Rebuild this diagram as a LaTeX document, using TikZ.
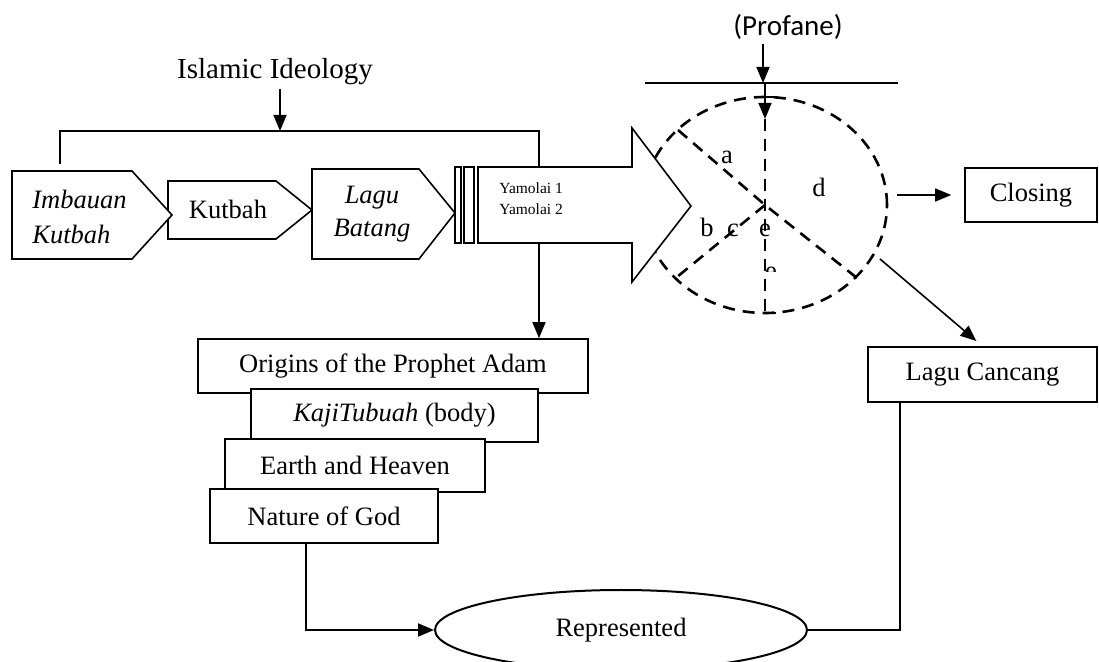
\documentclass[tikz,border=0pt]{standalone}
\usepackage{fontspec}
\setmainfont{Liberation Serif}
\newfontfamily\carlito{Carlito}
\usetikzlibrary{arrows.meta,shapes.geometric}
\begin{document}
\begin{tikzpicture}[x=0.5pt,y=-0.5pt,
  every node/.style={font=\fontsize{13.25}{16}\selectfont, inner sep=0pt},
  ln/.style={line width=0.8pt},
  tip/.style={-{Triangle[length=8pt,width=6.5pt]}},
  arr/.style={ln,tip},
  bx/.style={draw,ln,fill=white,rectangle,minimum height=27pt},
  dsh/.style={line width=1.3pt,dash pattern=on 6pt off 4pt},
  chev/.style={draw,ln,fill=white}
]
\useasboundingbox (0,0) rectangle (1099,662);

% profane and circle (drawn first, the big arrow covers it)
\node[font=\carlito\fontsize{14.5}{17}\selectfont] (prof) at (788,27) {(Profane)};
\coordinate (pA) at (763,44);
\coordinate (hl) at (763,83);
\coordinate (hlL) at (645,83);
\coordinate (hlR) at (898,83);
\draw[arr] (pA) -- (hl);
\draw[ln] (hlL) -- (hlR);
\node[draw,dsh,ellipse,minimum width=122pt,minimum height=108pt] (circ) at (765,205) {};
\coordinate (vtop) at (765,83);
\coordinate (vA) at (765,119);
\draw[arr] (vtop) -- (vA);
\draw[dsh] (vA) -- (circ.south);
\coordinate (d1) at (678,130);
\coordinate (d2) at (857,278);
\coordinate (d3) at (677,277);
\draw[dsh] (d1) -- (circ.center) -- (d2);
\draw[dsh] (circ.center) -- (d3);
\draw[line width=1pt] (765,97) -- (776,97);
\draw[line width=1pt] (765,313) -- (776,313);

\node (la) at (727,157) {a};
\node (ld) at (819,187) {d};
\node (lbb) at (707,227) {b};
\node (lc) at (733,230) {c};
\node (le) at (765,230) {e};
\begin{scope}
  \clip (750,255) rectangle (790,272);
  \node (le2) at (771,273) {e};
\end{scope}

% Islamic ideology and bracket
\node[font=\fontsize{14.5}{17}\selectfont] (ideo) at (275,72) {Islamic Ideology};
\coordinate (ideoA) at (280,89);
\coordinate (brM) at (280,131);
\coordinate (brL) at (60,131);
\coordinate (brR) at (539,131);
\draw[arr] (ideoA) -- (brM);
\draw[ln] (60,164) -- (brL) -- (brR) -- (539,167);

% chevrons
\draw[chev] (168,181) -- (276,181) -- (312,210) -- (276,239) -- (168,239) -- cycle;
\draw[chev] (12,171) -- (132,171) -- (172,215) -- (132,259) -- (12,259) -- cycle;
\draw[chev] (312,169) -- (419,169) -- (455,213) -- (419,259) -- (312,259) -- cycle;
\node[anchor=west,align=left,font=\fontsize{13.25}{17.5}\selectfont\itshape] (imb) at (32,217) {Imbauan\\Kutbah};
\node (kut) at (228,209) {Kutbah};
\node[align=center,font=\fontsize{13.25}{16.5}\selectfont\itshape] (lb) at (372,214) {Lagu\\Batang};

% thin bars and big arrow
\draw[ln] (455,167) rectangle (461,243);
\draw[ln] (464,167) rectangle (474,243);
\draw[chev] (478,167) -- (632,167) -- (632,128) -- (691,206) -- (632,282) -- (632,243) -- (478,243) -- cycle;
\node[anchor=west,align=left,font=\fontsize{7.75}{10.5}\selectfont] (yam) at (499,199) {Yamolai 1\\Yamolai 2};
\coordinate (yamB) at (539,243);

% stacked boxes
\node[bx,minimum width=195pt] (org) at (393,366) {Origins of the Prophet Adam};
\node[bx,minimum width=143.5pt,minimum height=26.5pt] (kaji) at (394.5,415.5) {\textit{KajiTubuah} (body)};
\node[bx,minimum width=130pt,minimum height=26.5pt] (earth) at (355,465.5) {Earth and Heaven};
\node[bx,minimum width=114pt] (nat) at (324,516) {Nature of God};
\draw[arr] (yamB) -- (yamB |- org.north);

% represented
\node[draw,line width=1pt,ellipse,minimum width=186pt,minimum height=40pt] (rep) at (621,630) {Represented};
\coordinate (natx) at (306,0);
\draw[line width=1pt,tip] (nat.south -| natx) |- (rep.west);

% closing and lagu cancang
\node[bx,minimum width=66pt] (clo) at (1031,195) {Closing};
\coordinate (cR) at (897,195);
\draw[arr,shorten >=6.5pt] (cR) -- (clo.west);
\node[bx,minimum width=114.5pt,minimum height=27.5pt] (lcan) at (982.5,374.5) {Lagu Cancang};
\coordinate (cL) at (880,259);
\draw[arr,shorten >=4pt] (cL) -- (lcan.north);
\coordinate (lcx) at (900,0);
\draw[line width=1pt] (lcan.south -| lcx) |- (rep.east);
\end{tikzpicture}
\end{document}
